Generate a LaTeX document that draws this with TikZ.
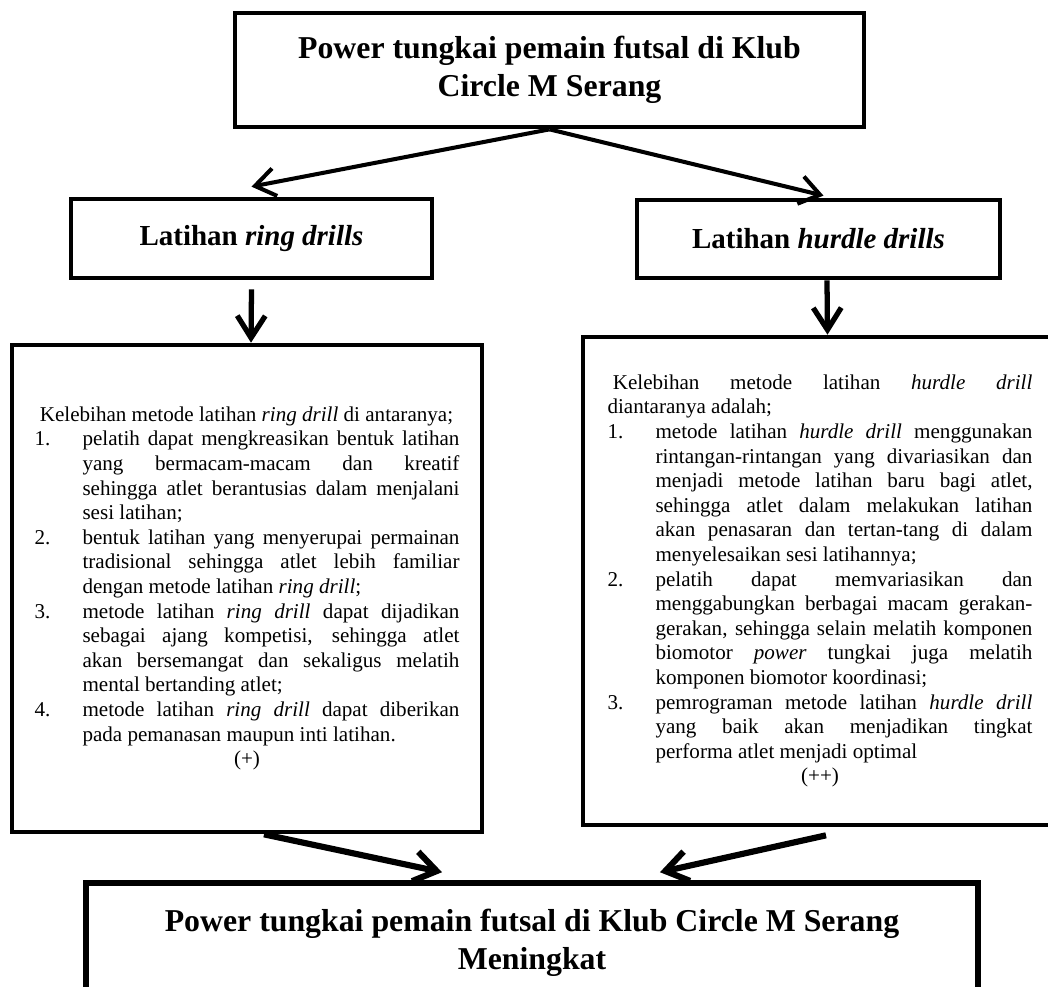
\documentclass[tikz,border=0pt]{standalone}
\usepackage{fontspec}
\setmainfont{Liberation Serif}
\usepackage{tikz}
\usetikzlibrary{arrows.meta}

\hyphenpenalty=10000
\tolerance=9999
\hbadness=10000

\newcommand{\drillitem}[2]{\par\noindent\hangindent=0.96cm\hangafter=1\makebox[0.96cm][l]{#1}#2\par}

\begin{document}
\begin{tikzpicture}[x=0.02cm, y=-0.02cm,
    headbox/.style={draw, line width=2.7pt, align=center, font=\bfseries\fontsize{18.1}{21.5}\selectfont},
    methodbox/.style={draw, line width=2.7pt, align=center, font=\bfseries\fontsize{16.5}{19}\selectfont},
    detailbox/.style={draw, line width=2.7pt, text width=8.5cm, align=justify, font=\fontsize{12}{14}\selectfont},
    flow/.style={-{Straight Barb[length=4mm,width=5.6mm]}, line width=2.3pt},
    flowdown/.style={-{Straight Barb[length=4.4mm,width=5.6mm]}, line width=3pt},
    flowbig/.style={-{Straight Barb[length=4.4mm,width=6mm]}, line width=3.5pt}]
    \useasboundingbox (0,0) rectangle (1048,987);
    \clip (0,0) rectangle (1048,987);

    % Top box
    \node[headbox, minimum width=12.58cm, minimum height=2.28cm] (powertop) at (549.5,70)
        {Power tungkai pemain futsal di Klub\\Circle M Serang};

    % Training methods
    \node[methodbox, minimum width=7.22cm, minimum height=1.58cm] (ringbox) at (251.5,238.5)
        {Latihan \textit{ring drills}};
    \node[methodbox, minimum width=7.26cm, minimum height=1.56cm] (hurdlebox) at (818.5,239)
        {Latihan \textit{hurdle drills}};

    % Advantages of ring drill
    \node[detailbox, minimum width=9.4cm, minimum height=9.74cm] (ringinfo) at (247,588.5) {%
        \hspace*{0.25em}Kelebihan metode latihan \textit{ring drill} di antaranya;\par
        \drillitem{1.}{pelatih dapat mengkreasikan bentuk latihan \linebreak yang bermacam-macam dan kreatif \linebreak sehingga atlet berantusias dalam menjalani \linebreak sesi latihan;}
        \drillitem{2.}{bentuk latihan yang menyerupai permainan \linebreak tradisional sehingga atlet lebih familiar \linebreak dengan metode latihan \textit{ring drill};}
        \drillitem{3.}{metode latihan \textit{ring drill} dapat dijadikan \linebreak sebagai ajang kompetisi, sehingga atlet \linebreak akan bersemangat dan sekaligus melatih \linebreak mental bertanding atlet;}
        \drillitem{4.}{metode latihan \textit{ring drill} dapat diberikan \linebreak pada pemanasan maupun inti latihan.}
        \centerline{(+)}};

    % Advantages of hurdle drill
    \node[detailbox, minimum width=9.48cm, minimum height=9.76cm] (hurdleinfo) at (820,581) {%
        \hspace*{0.25em}Kelebihan metode latihan \textit{hurdle drill} \linebreak diantaranya adalah;\par
        \drillitem{1.}{metode latihan \textit{hurdle drill} menggunakan \linebreak rintangan-rintangan yang divariasikan dan \linebreak menjadi metode latihan baru bagi atlet, \linebreak sehingga atlet dalam melakukan latihan \linebreak akan penasaran dan tertan-tang di dalam \linebreak menyelesaikan sesi latihannya;}
        \drillitem{2.}{pelatih dapat memvariasikan dan \linebreak menggabungkan berbagai macam gerakan-\linebreak gerakan, sehingga selain melatih komponen \linebreak biomotor \textit{power} tungkai juga melatih \linebreak komponen biomotor koordinasi;}
        \drillitem{3.}{pemrograman metode latihan \textit{hurdle drill} \linebreak yang baik akan menjadikan tingkat \linebreak performa atlet menjadi optimal}
        \centerline{(++)}};

    % Result box
    \node[headbox, line width=3.2pt, minimum width=17.84cm, minimum height=2.4cm] (result) at (532,943)
        {Power tungkai pemain futsal di Klub Circle M Serang\\Meningkat};

    % Arrows
    \draw[flow] (powertop.south) -- ([yshift=0.2cm]ringbox.north);
    \draw[flow] (powertop.south) -- ([xshift=0.1cm,yshift=0.04cm]hurdlebox.north);
    \draw[flowdown] ([yshift=-0.18cm]ringbox.south) -- ([xshift=0.08cm]ringinfo.north);
    \draw[flowdown] ([xshift=0.17cm]hurdlebox.south) -- ([xshift=0.15cm]hurdleinfo.north);
    \draw[flowbig] ([xshift=0.34cm]ringinfo.south) -- ([xshift=-1.8cm,yshift=0.16cm]result.north);
    \draw[flowbig] ([xshift=0.12cm,yshift=-0.16cm]hurdleinfo.south) -- ([xshift=2.56cm,yshift=0.16cm]result.north);
\end{tikzpicture}
\end{document}
